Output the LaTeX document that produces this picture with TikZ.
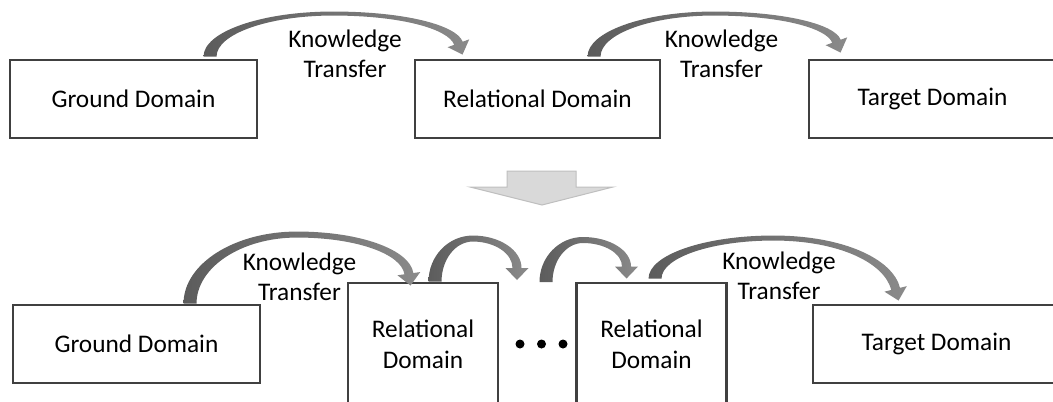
\documentclass[tikz,border=0pt]{standalone}
\usepackage{fontspec}
\setmainfont{Carlito}
\usetikzlibrary{calc}

\definecolor{boxline}{RGB}{64,64,64}
\definecolor{blockfill}{RGB}{217,217,217}
\definecolor{blockline}{RGB}{191,191,191}
\definecolor{bentdark}{RGB}{92,92,92}
\definecolor{bentlight}{RGB}{138,138,138}

% Curved band arrow (thick at its base, thin over the top, triangular head).
% #1 base corner (outer side), #2 tip, #3 rise of the outer top above the base (px),
% #4 band thickness at the top (px), #5 tilt of the head from vertical (deg)
\newdimen\barSx \newdimen\barSy \newdimen\barTx \newdimen\barTy
\newcommand{\bentarrow}[5]{%
  \pgfextractx{\barSx}{\pgfpointanchor{#1}{center}}%
  \pgfextracty{\barSy}{\pgfpointanchor{#1}{center}}%
  \pgfextractx{\barTx}{\pgfpointanchor{#2}{center}}%
  \pgfextracty{\barTy}{\pgfpointanchor{#2}{center}}%
  \pgfmathsetmacro\bXa{\barSx}%
  \pgfmathsetmacro\bYa{\barSy}%
  \pgfmathsetmacro\bXt{\barTx}%
  \pgfmathsetmacro\bYt{\barTy}%
  \pgfmathsetmacro\bW{13*0.75}%
  \pgfmathsetmacro\bHw{11.5*0.75}%
  \pgfmathsetmacro\bHl{12*0.75}%
  \pgfmathsetmacro\bNw{4.5*0.75}%
  \pgfmathsetmacro\bK{0.552}%
  \pgfmathsetmacro\bYp{\bYa+#3*0.75}%
  \pgfmathsetmacro\bYq{\bYp-#4*0.75}%
  \pgfmathsetmacro\bXp{(\bXa+\bXt)/2}%
  \pgfmathsetmacro\bSn{sin(#5)}%
  \pgfmathsetmacro\bCs{cos(#5)}%
  \pgfmathsetmacro\bTn{tan(#5)}%
  \pgfmathsetmacro\bBx{\bXt-\bHl*\bSn}%
  \pgfmathsetmacro\bBy{\bYt+\bHl*\bCs}%
  \pgfmathsetmacro\bWax{\bBx+\bHw*\bCs}%
  \pgfmathsetmacro\bWay{\bBy+\bHw*\bSn}%
  \pgfmathsetmacro\bWbx{\bBx-\bHw*\bCs}%
  \pgfmathsetmacro\bWby{\bBy-\bHw*\bSn}%
  \pgfmathsetmacro\bNax{\bBx+\bNw*\bCs}%
  \pgfmathsetmacro\bNay{\bBy+\bNw*\bSn}%
  \pgfmathsetmacro\bNbx{\bBx-\bNw*\bCs}%
  \pgfmathsetmacro\bNby{\bBy-\bNw*\bSn}%
  \pgfmathsetmacro\bCay{\bYa+\bK*(\bYp-\bYa)}%
  \pgfmathsetmacro\bCbx{\bXp-\bK*(\bXp-\bXa)}%
  \pgfmathsetmacro\bCcx{\bXp+\bK*(\bNax-\bXp)}%
  \pgfmathsetmacro\bCdx{\bNax-\bK*(\bYp-\bNay)*\bTn}%
  \pgfmathsetmacro\bCdy{\bNay+\bK*(\bYp-\bNay)}%
  \pgfmathsetmacro\bCex{\bNbx-\bK*(\bYq-\bNby)*\bTn}%
  \pgfmathsetmacro\bCey{\bNby+\bK*(\bYq-\bNby)}%
  \pgfmathsetmacro\bCfx{\bXp+\bK*(\bNbx-\bXp)}%
  \pgfmathsetmacro\bCgx{\bXp-\bK*(\bXp-\bXa-\bW)}%
  \pgfmathsetmacro\bXi{\bXa+\bW}%
  \pgfmathsetmacro\bChy{\bYa+\bK*(\bYq-\bYa)}%
  \shade[left color=bentdark, right color=bentlight]
    (\bXa pt,\bYa pt)
      .. controls (\bXa pt,\bCay pt) and (\bCbx pt,\bYp pt) .. (\bXp pt,\bYp pt)
      .. controls (\bCcx pt,\bYp pt) and (\bCdx pt,\bCdy pt) .. (\bNax pt,\bNay pt)
      -- (\bWax pt,\bWay pt) -- (\bXt pt,\bYt pt) -- (\bWbx pt,\bWby pt)
      -- (\bNbx pt,\bNby pt)
      .. controls (\bCex pt,\bCey pt) and (\bCfx pt,\bYq pt) .. (\bXp pt,\bYq pt)
      .. controls (\bCgx pt,\bYq pt) and (\bXi pt,\bChy pt) .. (\bXi pt,\bYa pt)
      -- cycle;
}

\tikzset{
  domainbox/.style={draw=boxline, line width=2.2pt, minimum width=247*0.75pt,
    minimum height=78*0.75pt, inner sep=0pt, align=center,
    font=\fontsize{19}{23.25}\selectfont},
  tallbox/.style={domainbox, minimum width=150*0.75pt, minimum height=122*0.75pt},
  ktlabel/.style={align=center, inner sep=0pt, font=\fontsize{19}{22.5}\selectfont},
  ellipsisdot/.style={circle, fill=black, inner sep=0pt, minimum size=9*0.75pt},
}

\begin{document}
\begin{tikzpicture}[x=0.75pt, y=-0.75pt]
\path[use as bounding box, clip] (0,0) rectangle (1053,401);

% upper chain
\node[domainbox] (g1) at (133.5,99) {Ground Domain};
\node[domainbox, minimum width=245*0.75pt] (r1) at (537.5,99) {Relational Domain};
\node[domainbox] (t1) at (932.5,99) {Target Domain};
\node[ktlabel] (k1) at (345,54) {Knowledge\\Transfer};
\node[ktlabel] (k2) at (721.5,54) {Knowledge\\Transfer};

\coordinate (a1s) at ($(g1.north west)+(195,-2)$);
\coordinate (a1t) at ($(r1.north west)+(49,-4)$);
\bentarrow{a1s}{a1t}{45}{4}{20}
\coordinate (a2s) at ($(r1.north west)+(174,-2)$);
\coordinate (a2t) at ($(t1.north west)+(33,-6)$);
\bentarrow{a2s}{a2t}{45}{4}{20}

% block arrow between the two chains
\filldraw[fill=blockfill, draw=blockline, line width=0.75pt]
  (507,171) -- (576,171) -- (576,187) -- (613,187) -- (542,205)
  -- (470,187) -- (507,187) -- cycle;

% lower chain
\node[domainbox] (g2) at (136.5,344) {Ground Domain};
\node[tallbox] (r2) at (423,344) {Relational\\Domain};
\node[tallbox] (r3) at (651.5,344) {Relational\\Domain};
\node[domainbox] (t2) at (936.5,344) {Target Domain};
\node[ellipsisdot] (d1) at (520,344) {};
\node[ellipsisdot] (d2) at (541.5,344) {};
\node[ellipsisdot] (d3) at (563,344) {};
\node[ktlabel] (k3) at (299.5,277) {Knowledge\\Transfer};
\node[ktlabel] (k4) at (779,276) {Knowledge\\Transfer};

\coordinate (a3s) at ($(g2.north west)+(172,0)$);
\coordinate (a3t) at ($(r2.north west)+(64,4)$);
\bentarrow{a3s}{a3t}{72}{6}{8}
\coordinate (a4s) at ($(r2.north west)+(82,0)$);
\coordinate (a4t) at ($(d1)+(-3,-64)$);
\bentarrow{a4s}{a4t}{46}{6}{0}
\coordinate (a5s) at ($(d2)+(-2,-62)$);
\coordinate (a5t) at ($(r3.north west)+(51.5,-3)$);
\bentarrow{a5s}{a5t}{45}{6}{0}
\coordinate (a6s) at ($(r3.north west)+(73.5,-3)$);
\coordinate (a6t) at ($(t2.north west)+(87,-3)$);
\bentarrow{a6s}{a6t}{43}{5}{14}
\end{tikzpicture}
\end{document}
